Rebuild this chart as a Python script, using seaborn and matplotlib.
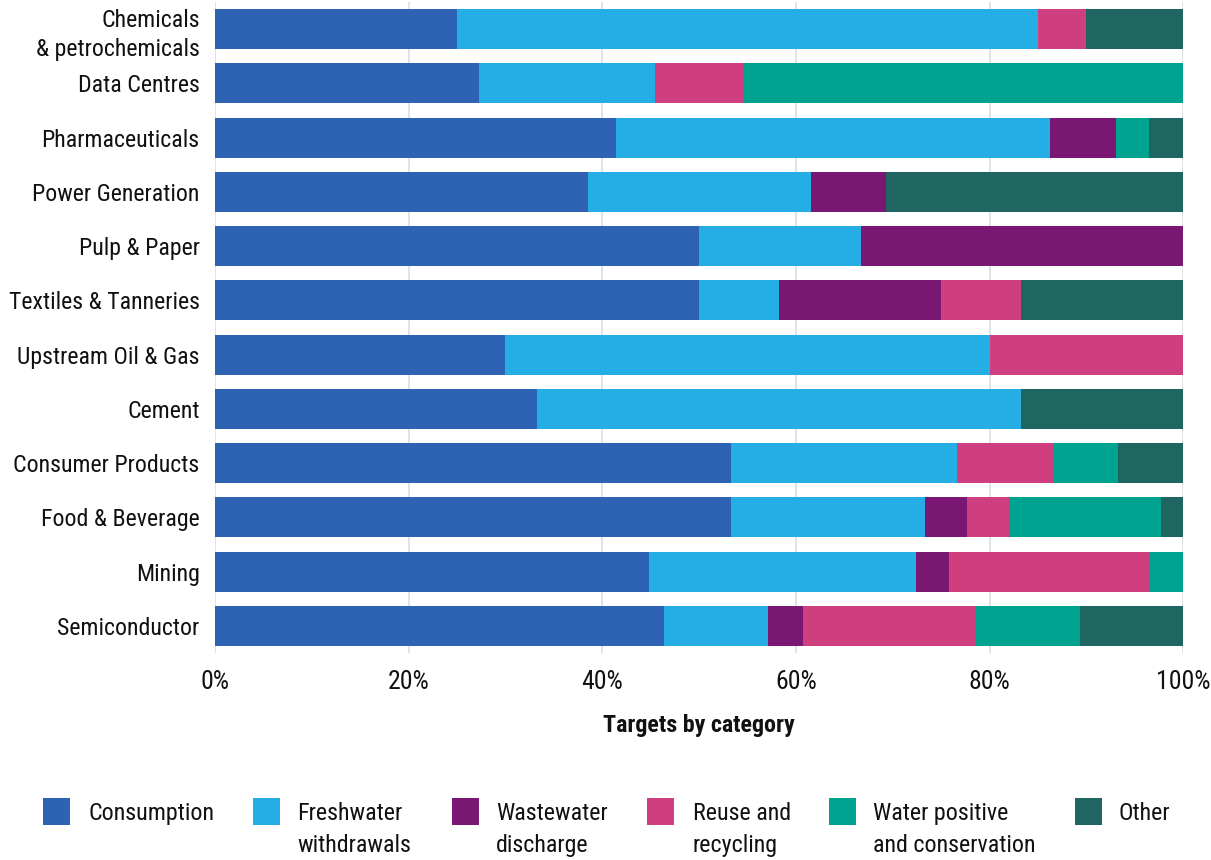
import matplotlib
matplotlib.use("Agg")
import matplotlib.pyplot as plt
import seaborn as sns
import pandas as pd
import numpy as np
from matplotlib.patches import Rectangle
from matplotlib import font_manager

sectors = ["Chemicals\n& petrochemicals", "Data Centres", "Pharmaceuticals",
           "Power Generation", "Pulp & Paper", "Textiles & Tanneries",
           "Upstream Oil & Gas", "Cement", "Consumer Products",
           "Food & Beverage", "Mining", "Semiconductor"]

consumption = [25.0, 27.3, 41.4, 38.5, 50.0, 50.0, 30.0, 33.3, 53.3, 53.3, 44.8, 46.4]
freshwater  = [60.0, 18.2, 44.8, 23.1, 16.7,  8.3, 50.0, 50.0, 23.3, 20.0, 27.6, 10.7]
wastewater  = [ 0.0,  0.0,  6.9,  7.7, 33.3, 16.7,  0.0,  0.0,  0.0,  4.4,  3.4,  3.6]
reuse       = [ 5.0,  9.1,  0.0,  0.0,  0.0,  8.3, 20.0,  0.0, 10.0,  4.4, 20.7, 17.9]
water_pos   = [ 0.0, 45.4,  3.4,  0.0,  0.0,  0.0,  0.0,  0.0,  6.7, 15.6,  3.5, 10.7]
other       = [10.0,  0.0,  3.5, 30.7,  0.0, 16.7,  0.0, 16.7,  6.7,  2.3,  0.0, 10.7]

series_names = ["Consumption", "Freshwater\nwithdrawals", "Wastewater\ndischarge",
                "Reuse and\nrecycling", "Water positive\nand conservation", "Other"]
colors = ["#2e62b3", "#25aee6", "#7a1773", "#cf3e7e", "#00a38f", "#1f6662"]

sns.set_theme(style="white")

names = {f.name for f in font_manager.fontManager.ttflist}
if "Roboto Condensed" in names:
    family, k = "Roboto Condensed", 1.0
else:
    family, k = "Open Sans", 0.82
plt.rcParams["font.family"] = [family, "DejaVu Sans"]
fs_y = 17.2 * k
fs_x = 18.5 * k
fs_lab = 17.3 * k
fs_leg = 17.3 * k

df = pd.DataFrame({"sector": sectors,
                   "s0": consumption, "s1": freshwater, "s2": wastewater,
                   "s3": reuse, "s4": water_pos, "s5": other})
vals = df[["s0", "s1", "s2", "s3", "s4", "s5"]].to_numpy()
cum = np.cumsum(vals, axis=1)

W, H = 1211, 860
fig = plt.figure(figsize=(W / 100, H / 100), dpi=100)
ax = fig.add_axes([0.1775, 0.2407, 0.7995, 0.757])

for i in range(5, -1, -1):
    d = pd.DataFrame({"sector": sectors, "v": cum[:, i]})
    sns.barplot(data=d, x="v", y="sector", color=colors[i], width=0.74,
                saturation=1, ax=ax, zorder=2, linewidth=0)

ax.set_xlim(0, 100)
ax.set_ylim(11.5, -0.5)
ax.set_xticks([0, 20, 40, 60, 80, 100])
ax.set_xticklabels(["0%", "20%", "40%", "60%", "80%", "100%"])
ax.xaxis.grid(True, color="#d6dfe8", linewidth=1.2, zorder=0)
ax.set_axisbelow(True)
for s in ax.spines.values():
    s.set_visible(False)
ax.tick_params(axis="both", length=0, colors="#111111")
ax.tick_params(axis="x", pad=12, labelsize=fs_x)
ax.tick_params(axis="y", pad=11, labelsize=fs_y)
for lab in ax.get_yticklabels():
    lab.set_horizontalalignment("right")
    lab.set_multialignment("right")
    lab.set_linespacing(1.35)
ax.set_ylabel("")
ax.set_xlabel("Targets by category", fontsize=fs_lab, fontweight="bold",
              color="#111111", labelpad=15)

# legend: square aligned with first text line
sq_x = [43, 253, 452, 647, 829, 1075]
tx_x = [88, 297, 496, 693, 873, 1119]
sq_top, sq_w, sq_h = 798, 27, 27
for c, name, sx, tx in zip(colors, series_names, sq_x, tx_x):
    fig.add_artist(Rectangle((sx / W, 1 - (sq_top + sq_h) / H), sq_w / W, sq_h / H,
                             transform=fig.transFigure, facecolor=c,
                             edgecolor="none"))
    fig.text(tx / W, 1 - 802 / H, name, fontsize=fs_leg, color="#111111",
             ha="left", va="top", linespacing=1.5)

fig.savefig("out.png", dpi=100)
